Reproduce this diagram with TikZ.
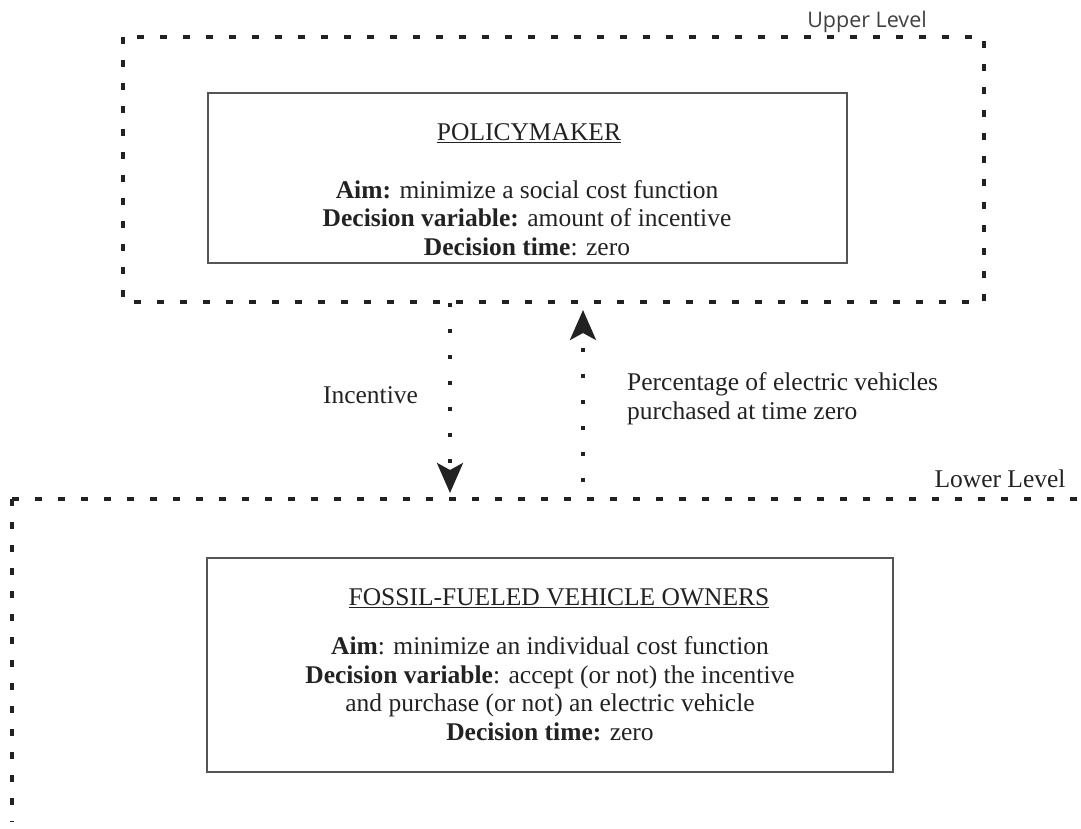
\documentclass[tikz,border=0pt]{standalone}
\usepackage{fontspec}
\setmainfont{Liberation Serif}
\newfontfamily\levelfont{Open Sans}
\usetikzlibrary{arrows.meta,positioning}

\definecolor{inkgray}{HTML}{222222}
\definecolor{framegray}{HTML}{555555}

\tikzset{
  levelframe/.style={draw=inkgray, line width=3.4pt, dash pattern=on 7pt off 16pt},
  agentbox/.style={draw=framegray, line width=1.2pt, inner sep=0pt},
  flowline/.style={draw=inkgray, line width=3.6pt, dash pattern=on 3.6pt off 22.4pt,
    -{Stealth[length=30pt,width=26pt,inset=7pt]}},
  bodytext/.style={font=\fontsize{25.5}{28.5}\selectfont, text=inkgray, align=center, inner sep=0pt},
}

\begin{document}
\begin{tikzpicture}[x=1pt,y=1pt]% upper and lower level
  \useasboundingbox (0,0) rectangle (1081,-829);

  % upper level: policymaker
  \draw [levelframe] (123,-37) rectangle (984,-302);
  \node (upper) at (867,-28) [anchor=base, inner sep=0pt, text=black!75,
      font=\levelfont\fontsize{21.5}{25}\selectfont] {Upper Level};
  \node (pm) at (527.5,-178) [agentbox, minimum width=639pt, minimum height=170pt] {};
  \node (pmtitle) at (529,-141) [bodytext, anchor=base] {\underline{POLICYMAKER}};
  \node (pmtext) at (527,-255) [bodytext, anchor=base] {%
    \textbf{Aim:} minimize a social cost function\\
    \textbf{Decision variable:} amount of incentive\\
    \textbf{Decision time}: zero};

  % lower level: vehicle owners
  \draw [levelframe] (12,-499) -- (1090,-499);
  \draw [levelframe] (12,-499) -- (12,-822);
  \node (lower) at (1000,-487) [bodytext, anchor=base] {Lower Level};
  \node (fv) at (550,-665) [agentbox, minimum width=686pt, minimum height=214pt] {};
  \node (fvtitle) at (559,-605) [bodytext, anchor=base] {\underline{FOSSIL-FUELED VEHICLE OWNERS}};
  \node (fvtext) at (550,-740) [bodytext, anchor=base] {%
    \textbf{Aim}: minimize an individual cost function\\
    \textbf{Decision variable}: accept (or not) the incentive\\
    and purchase (or not) an electric vehicle\\
    \textbf{Decision time:} zero};

  % flows between the levels
  \coordinate (incfrom) at (450,-303);
  \coordinate (incto) at (450,-493);
  \coordinate (pctfrom) at (583,-482);
  \coordinate (pctto) at (583,-310);
  \draw [flowline] (incfrom) -- (incto);
  \draw [flowline] (pctfrom) -- (pctto);
  \node (inc) at (370.5,-403) [bodytext, anchor=base] {Incentive};
  \node (pct) at (627,-419) [bodytext, anchor=base west, align=left] {%
    Percentage of electric vehicles\\
    purchased at time zero};
\end{tikzpicture}
\end{document}
